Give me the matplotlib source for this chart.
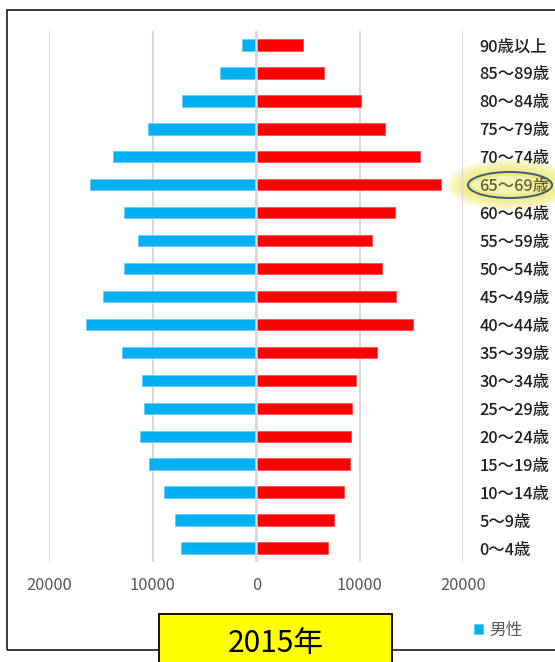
import matplotlib
matplotlib.use("Agg")
import matplotlib.pyplot as plt
from matplotlib.patches import Rectangle, Ellipse
import numpy as np

plt.rcParams['font.family'] = ['Noto Sans CJK JP', 'DejaVu Sans']

## Data, youngest group first
ages = ['0～4歳', '5～9歳', '10～14歳', '15～19歳', '20～24歳', '25～29歳',
        '30～34歳', '35～39歳', '40～44歳', '45～49歳', '50～54歳', '55～59歳',
        '60～64歳', '65～69歳', '70～74歳', '75～79歳', '80～84歳', '85～89歳',
        '90歳以上']
male = [7270, 7850, 8910, 10340, 11230, 10820, 11090, 13000, 16480, 14810,
        12760, 11430, 12760, 16080, 13860, 10440, 7170, 3480, 1370]
female = [6930, 7470, 8460, 9010, 9180, 9250, 9660, 11640, 15090, 13450,
          12120, 11190, 13410, 17820, 15840, 12420, 10100, 6520, 4500]
xticks = [-20000, -10000, 0, 10000, 20000]
title = '2015年'
highlight = '65～69歳'

W, H = 555, 662
fig = plt.figure(figsize=(W / 100, H / 100), dpi=100)
ax = fig.add_axes([49.3 / W, 1 - 562 / H, (463.4 - 49.3) / W, (562 - 31) / H])
ax.patch.set_alpha(0)

y = np.arange(len(ages))
bars_m = ax.barh(y, -np.array(male), height=0.41, color='#00B0F0',
                 edgecolor='#5FCFF7', linewidth=0.6, zorder=2)
ax.barh(y, female, height=0.41, color='#FF0000', edgecolor='#FF5050',
        linewidth=0.6, zorder=2)

ax.set_xlim(-20000, 20000)
ax.set_ylim(-0.5, len(ages) - 0.5)
ax.set_xticks(xticks)
ax.set_xticklabels([str(abs(v)) for v in xticks])
ax.grid(axis='x', color='#D9D9D9', linewidth=1.5, zorder=0)
ax.axvline(0, color='#D9D9D9', linewidth=1.8, zorder=3)
ax.set_axisbelow(True)

ax.yaxis.tick_right()
ax.set_yticks(y)
ax.set_yticklabels(ages)
ax.tick_params(axis='y', length=0, pad=11.5, labelsize=11.8, labelcolor='#1f1f1f')
ax.tick_params(axis='x', length=0, pad=10.5, labelsize=11.8, labelcolor='#595959')
for lbl in ax.get_yticklabels():
    lbl.set_fontweight('medium')
    if lbl.get_text() == highlight:
        lbl.set_color('#66621c')
for s in ax.spines.values():
    s.set_visible(False)

## outer frame of the chart
fig.patches.append(Rectangle((7.3 / W, 1 - 650 / H), 1.2, (650 - 10.3) / H,
                             transform=fig.transFigure, fill=False,
                             edgecolor='#1a1a1a', linewidth=1.2, zorder=1))

## legend
fig.legend(handles=[bars_m], labels=['男性'], loc='center left',
           bbox_to_anchor=(474 / W, 1 - 630 / H), frameon=False,
           handlelength=0.55, handleheight=0.55, handletextpad=0.35,
           borderpad=0, borderaxespad=0, fontsize=12, labelcolor='#595959')

## yellow title box
fig.patches.append(Rectangle((159.3 / W, 1 - 680 / H), (392.3 - 159.3) / W, (680 - 614) / H,
                             transform=fig.transFigure, facecolor='#FFFF00',
                             edgecolor='black', linewidth=1.3, zorder=4))
fig.text(275.7 / W, 1 - 643 / H, title, fontsize=21.5, ha='center', va='center',
         color='black', zorder=5)

## glow + ellipse around the highlighted age group (behind the label)
cx, cy = 510 / W, 1 - 185 / H
for k in range(12):
    fig.patches.append(Ellipse((cx, cy), (84 + 4 * k) / W, (24 + 2.6 * k) / H,
                               transform=fig.transFigure, facecolor='#EEE85A',
                               edgecolor='none', alpha=0.11, zorder=-1))
fig.patches.append(Ellipse((cx, cy), 76 / W, 18 / H, transform=fig.transFigure,
                           facecolor='#FBFAE0', edgecolor='none', alpha=0.6, zorder=-1))
fig.patches.append(Ellipse((cx, cy), 84 / W, 26 / H, transform=fig.transFigure,
                           fill=False, edgecolor='#3C5A86', linewidth=1.4, zorder=3))

fig.savefig('out.png', dpi=100)
